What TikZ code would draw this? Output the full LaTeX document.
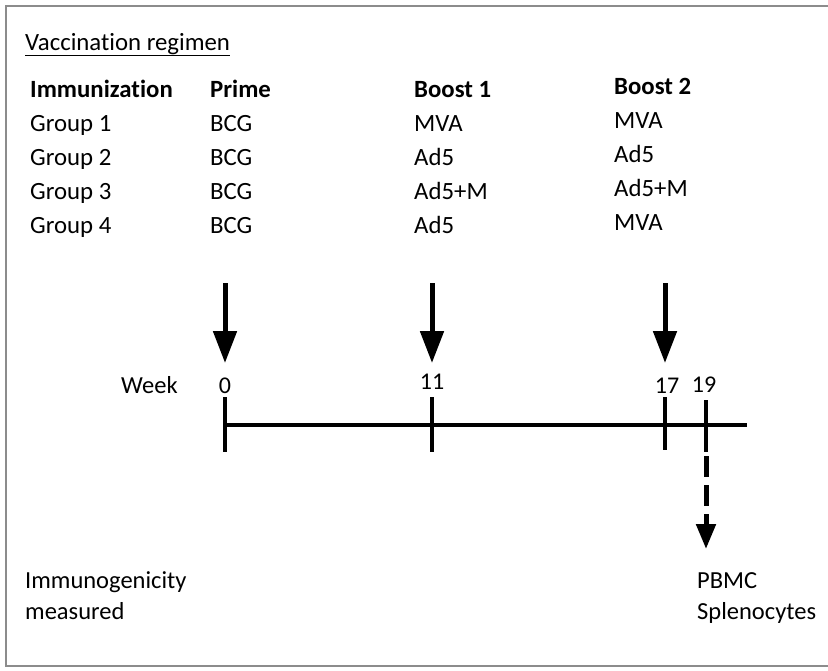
\documentclass[tikz,border=0pt]{standalone}
\usepackage{fontspec}
\setmainfont[Ligatures=NoCommon]{Carlito}
\usepackage{tikz}
\usetikzlibrary{arrows.meta}

\begin{document}
\begin{tikzpicture}[
  x=1pt, y=-1pt,
  txt/.style={anchor=base west, inner sep=0pt, font=\fontsize{24.8}{29}\selectfont},
  colhead/.style={txt, font=\fontsize{24.8}{29}\selectfont\bfseries},
  note/.style={anchor=base west, inner sep=0pt, font=\fontsize{24.5}{29}\selectfont},
  weeklabel/.style={anchor=base, inner sep=0pt, font=\fontsize{24}{28}\selectfont},
  frame/.style={draw=black!45, line width=2.5pt},
  axis/.style={line width=4.5pt},
  dose/.style={line width=5pt, -{Triangle[width=23pt,length=32pt]}},
  sample/.style={line width=5pt, dash pattern=on 21pt off 8pt, -{Triangle[width=19pt,length=25pt]}}
]
  \useasboundingbox (0,0) rectangle (828,670);
  \clip (0,0) rectangle (828,670);
  \draw[frame] (840,6) -- (6,6) -- (6,666) -- (840,666);

  % table
  \node[txt] (title) at (25,50) {\underline{Vaccination regimen}};
  \node[colhead] (immun) at (30,97) {Immunization};
  \node[colhead] (prime) at (210,97) {Prime};
  \node[colhead] (boosta) at (414,97) {Boost 1};
  \node[colhead] (boostb) at (614,94) {Boost 2};

  \node[txt] (g1) at (30,131) {Group 1};
  \node[txt] (g2) at (30,165) {Group 2};
  \node[txt] (g3) at (30,199) {Group 3};
  \node[txt] (g4) at (30,233) {Group 4};

  \node[txt] (p1) at (210,131) {BCG};
  \node[txt] (p2) at (210,165) {BCG};
  \node[txt] (p3) at (210,199) {BCG};
  \node[txt] (p4) at (210,233) {BCG};

  \node[txt] (ba1) at (414,131) {MVA};
  \node[txt] (ba2) at (414,165) {Ad5};
  \node[txt] (ba3) at (414,199) {Ad5+M};
  \node[txt] (ba4) at (414,233) {Ad5};

  \node[txt] (bb1) at (614,128) {MVA};
  \node[txt] (bb2) at (614,162) {Ad5};
  \node[txt] (bb3) at (614,196) {Ad5+M};
  \node[txt] (bb4) at (614,230) {MVA};

  % timeline
  \node[note] (week) at (121,393) {Week};
  \node[weeklabel] (w0) at (225,393) {0};
  \node[weeklabel] (w11) at (432,389) {11};
  \node[weeklabel] (w17) at (667,393) {17};
  \node[weeklabel] (w19) at (704,392) {19};

  \coordinate (start) at (225,425);
  \coordinate (end) at (747,425);
  \draw[axis] (start) -- (end);
  \draw[axis] (225,397) -- (225,452);
  \draw[axis] (432,397) -- (432,452);
  \draw[axis] (665,397) -- (665,450);
  \draw[axis] (706,400) -- (706,452);

  \coordinate (primetop) at (225,283);
  \coordinate (primetip) at (225,363);
  \coordinate (boostatop) at (432,283);
  \coordinate (boostatip) at (432,363);
  \coordinate (boostbtop) at (665,283);
  \coordinate (boostbtip) at (665,363);
  \draw[dose] (primetop) -- (primetip);
  \draw[dose] (boostatop) -- (boostatip);
  \draw[dose] (boostbtop) -- (boostbtip);

  \coordinate (harvest) at (706,456);
  \coordinate (harvesttip) at (706,549);
  \draw[sample] (harvest) -- (harvesttip);

  % readout
  \node[note] (immuno) at (25,588) {Immunogenicity};
  \node[note] (measured) at (25,619) {measured};
  \node[note] (pbmc) at (697,588) {PBMC};
  \node[note] (spleno) at (697,619) {Splenocytes};
\end{tikzpicture}
\end{document}
